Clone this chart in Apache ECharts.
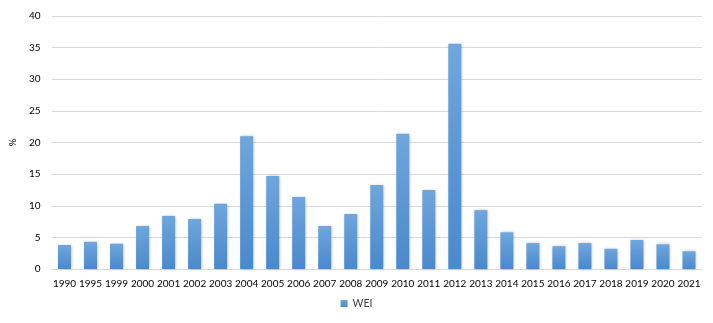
<!DOCTYPE html>
<html><head><meta charset="utf-8">
<script src="https://cdn.jsdelivr.net/npm/echarts@6/dist/echarts.min.js"></script>
<style>html,body{margin:0;padding:0;background:#fff}#c{width:713px;height:323px}</style>
</head><body><div id="c"></div>
<script>
const categories = ['1990','1995','1999','2000','2001','2002','2003','2004','2005','2006','2007','2008','2009','2010','2011','2012','2013','2014','2015','2016','2017','2018','2019','2020','2021'];
const weiValues = [3.8,4.3,4.0,6.8,8.4,7.9,10.3,21.0,14.7,11.4,6.8,8.7,13.3,21.4,12.5,35.6,9.3,5.8,4.1,3.6,4.1,3.2,4.6,3.9,2.8];
const yTicks = {min:0, max:40, interval:5};
const seriesName = 'WEI';
const yName = '%';

const font = 'Lato, "Open Sans", sans-serif';
const chart = echarts.init(document.getElementById('c'), null, {renderer:'canvas'});
chart.setOption({
  animation:false,
  grid:{left:49, right:11, top:16, bottom:54, containLabel:false},
  legend:{data:[seriesName], bottom:9, left:'center', itemWidth:7, itemHeight:7, itemGap:5,
    icon:'rect', textStyle:{fontFamily:font, fontSize:10.5, color:'#404040'}},
  xAxis:{type:'category', data:categories,
    axisLine:{lineStyle:{color:'#d9d9d9'}}, axisTick:{show:false},
    axisLabel:{fontFamily:font, fontSize:10, color:'#000', margin:10, interval:0}},
  yAxis:{type:'value', min:yTicks.min, max:yTicks.max, interval:yTicks.interval,
    name:yName, nameLocation:'middle', nameGap:31, nameRotate:90,
    nameTextStyle:{fontFamily:font, fontSize:10, color:'#000'},
    axisLine:{show:false}, axisTick:{show:false},
    axisLabel:{fontFamily:font, fontSize:10, color:'#000', margin:11},
    splitLine:{lineStyle:{color:'#d9d9d9'}}},
  series:[{name:seriesName, type:'bar', data:weiValues, barCategoryGap:'50%',
    itemStyle:{color:new echarts.graphic.LinearGradient(0,0,0,1,[{offset:0,color:'#6fa6dd'},{offset:1,color:'#4a89cc'}]),
      shadowColor:'rgba(0,0,0,0.25)', shadowBlur:3, shadowOffsetX:1}}]
});
</script></body></html>
